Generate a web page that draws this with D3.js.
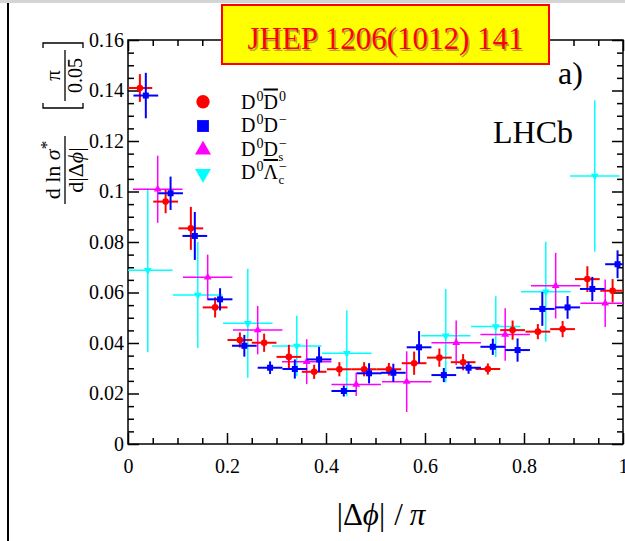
<!DOCTYPE html>
<html>
<head>
<meta charset="utf-8">
<script src="https://cdn.jsdelivr.net/npm/d3@7"></script>
<style>
  body { margin: 0; background: #fff; }
  svg { display: block; font-family: "Liberation Serif", "Times New Roman", serif; }
</style>
</head>
<body>
<svg id="chart" width="625" height="541"></svg>
<script>
// Axis ticks and labels
const xTickVals = [0, 0.2, 0.4, 0.6, 0.8, 1];
const xTickLabels = ["0", "0.2", "0.4", "0.6", "0.8", "1"];
const yTickVals = [0, 0.02, 0.04, 0.06, 0.08, 0.1, 0.12, 0.14, 0.16];
const yTickLabels = ["0", "0.02", "0.04", "0.06", "0.08", "0.1", "0.12", "0.14", "0.16"];

// D0 D0bar (red)
const redX  = [0.024, 0.076, 0.127, 0.176, 0.226, 0.275, 0.325, 0.376, 0.427, 0.477, 0.527, 0.578, 0.629, 0.677, 0.727, 0.777, 0.828, 0.878, 0.928, 0.979];
const redY  = [0.141, 0.096, 0.0854, 0.0541, 0.0412, 0.0401, 0.0345, 0.0286, 0.0296, 0.0296, 0.0296, 0.032, 0.0342, 0.0324, 0.0297, 0.0451, 0.0445, 0.0455, 0.0653, 0.0607];
const redEY = [0.0055, 0.0046, 0.0085, 0.004, 0.003, 0.0036, 0.0048, 0.0028, 0.0028, 0.0028, 0.0025, 0.0046, 0.0036, 0.0032, 0.0022, 0.0038, 0.003, 0.0032, 0.0051, 0.0046];

// D0 D- (blue)
const blueX  = [0.036, 0.086, 0.135, 0.186, 0.235, 0.287, 0.337, 0.386, 0.436, 0.487, 0.536, 0.588, 0.638, 0.688, 0.737, 0.787, 0.837, 0.888, 0.938, 0.989];
const blueY  = [0.138, 0.0993, 0.0824, 0.0573, 0.0389, 0.0302, 0.0297, 0.0335, 0.021, 0.028, 0.0282, 0.0383, 0.0273, 0.0302, 0.0385, 0.0372, 0.0535, 0.0541, 0.0614, 0.0712];
const blueEY = [0.009, 0.0066, 0.0095, 0.0044, 0.0043, 0.0025, 0.0038, 0.005, 0.0022, 0.004, 0.0036, 0.0064, 0.0028, 0.0024, 0.0032, 0.0046, 0.0067, 0.0045, 0.0048, 0.0055];

// D0 Ds- (magenta)
const magX  = [0.06, 0.161, 0.262, 0.361, 0.461, 0.563, 0.663, 0.762, 0.864, 0.964];
const magY  = [0.1009, 0.066, 0.0451, 0.0326, 0.0236, 0.0247, 0.0401, 0.0434, 0.0627, 0.0557];
const magEY = [0.0133, 0.009, 0.0096, 0.0089, 0.0046, 0.012, 0.0088, 0.0104, 0.013, 0.0094];

// D0 Lambda_c- (cyan)
const cyanX  = [0.04, 0.141, 0.242, 0.341, 0.442, 0.642, 0.743, 0.844, 0.943];
const cyanY  = [0.0688, 0.059, 0.0478, 0.0388, 0.0359, 0.0429, 0.0465, 0.0603, 0.1061];
const cyanEY = [0.0325, 0.021, 0.0216, 0.012, 0.017, 0.0185, 0.012, 0.0198, 0.03];

// half bin widths
const narrowBin = 0.025;
const wideBin = 0.05;

const svg = d3.select("#chart");
const plot = { left: 128, right: 623, top: 40, bottom: 444 };

const x = d3.scaleLinear().domain([0, 1]).range([plot.left, plot.right]);
const y = d3.scaleLinear().domain([0, 0.16]).range([plot.bottom, plot.top]);

// page edges (screenshot border)
svg.append("rect").attr("x", 0).attr("y", 0).attr("width", 625).attr("height", 3).attr("fill", "#d4d4d4");
svg.append("line").attr("x1", 8).attr("x2", 8).attr("y1", 3).attr("y2", 541)
  .attr("stroke", "#000").attr("stroke-width", 2);

// --- axes ---
const xMinor = d3.range(0, 21).map(i => i * 0.05).filter(v => Math.abs(v * 5 - Math.round(v * 5)) > 1e-6);
const yMinor = d3.range(0, 33).map(i => i * 0.005).filter(v => Math.abs(v * 50 - Math.round(v * 50)) > 1e-6);

function addAxis(axis, tx, ty) {
  const g = svg.append("g").attr("transform", `translate(${tx},${ty})`).call(axis);
  g.select(".domain").remove();
  g.attr("font-family", null).attr("font-size", 20);
  g.selectAll("line").attr("stroke-width", 1.5);
  g.selectAll("text").attr("fill", "#000");
  return g;
}

// bottom
addAxis(d3.axisBottom(x).tickValues(xTickVals).tickSize(-11).tickPadding(15)
  .tickFormat((d, i) => xTickLabels[i]), 0, plot.bottom);
addAxis(d3.axisBottom(x).tickValues(xMinor).tickSize(-6).tickFormat(""), 0, plot.bottom);
// top
addAxis(d3.axisTop(x).tickValues(xTickVals).tickSize(-11).tickFormat(""), 0, plot.top);
addAxis(d3.axisTop(x).tickValues(xMinor).tickSize(-6).tickFormat(""), 0, plot.top);
// left
addAxis(d3.axisLeft(y).tickValues(yTickVals).tickSize(-11).tickPadding(4)
  .tickFormat((d, i) => yTickLabels[i]), plot.left, 0);
addAxis(d3.axisLeft(y).tickValues(yMinor).tickSize(-6).tickFormat(""), plot.left, 0);
// right
addAxis(d3.axisRight(y).tickValues(yTickVals).tickSize(-11).tickFormat(""), plot.right, 0);
addAxis(d3.axisRight(y).tickValues(yMinor).tickSize(-6).tickFormat(""), plot.right, 0);

// frame
svg.append("rect")
  .attr("x", plot.left).attr("y", plot.top)
  .attr("width", plot.right - plot.left).attr("height", plot.bottom - plot.top)
  .attr("fill", "none").attr("stroke", "#000").attr("stroke-width", 1.5);

// --- data ---
svg.append("clipPath").attr("id", "plot-clip").append("rect")
  .attr("x", plot.left).attr("y", plot.top)
  .attr("width", plot.right - plot.left).attr("height", plot.bottom - plot.top);

const dataLayer = svg.append("g").attr("clip-path", "url(#plot-clip)");

function drawSeries(xs, ys, eys, ex, color, symbolType, size, lw, rotate) {
  const pts = xs.map((v, i) => ({ x: v, y: ys[i], ey: eys[i] }));
  const g = dataLayer.append("g");
  g.selectAll(".hbar").data(pts).enter().append("line")
    .attr("x1", d => x(d.x - ex)).attr("x2", d => x(d.x + ex))
    .attr("y1", d => y(d.y)).attr("y2", d => y(d.y))
    .attr("stroke", color).attr("stroke-width", lw);
  g.selectAll(".vbar").data(pts).enter().append("line")
    .attr("x1", d => x(d.x)).attr("x2", d => x(d.x))
    .attr("y1", d => y(d.y - d.ey)).attr("y2", d => y(d.y + d.ey))
    .attr("stroke", color).attr("stroke-width", lw);
  g.selectAll(".mark").data(pts).enter().append("path")
    .attr("d", d3.symbol().type(symbolType).size(size))
    .attr("transform", d => `translate(${x(d.x)},${y(d.y)})${rotate ? " rotate(180)" : ""}`)
    .attr("fill", color);
}

drawSeries(cyanX, cyanY, cyanEY, wideBin, "#00ffff", d3.symbolTriangle, 26, 1.5, true);
drawSeries(magX, magY, magEY, wideBin, "#ff00ff", d3.symbolTriangle, 26, 1.5, false);
drawSeries(redX, redY, redEY, narrowBin, "#ff0000", d3.symbolCircle, 34, 2, false);
drawSeries(blueX, blueY, blueEY, narrowBin, "#0000ff", d3.symbolSquare, 36, 2, false);

// --- legend ---
const legend = svg.append("g");
const legendRows = [
  { color: "#ff0000", type: d3.symbolCircle, rot: false, cy: 101.7 },
  { color: "#0000ff", type: d3.symbolSquare, rot: false, cy: 126 },
  { color: "#ff00ff", type: d3.symbolTriangle, rot: false, cy: 150 },
  { color: "#00ffff", type: d3.symbolTriangle, rot: true, cy: 173.5 }
];
legendRows.forEach(r => {
  legend.append("path")
    .attr("d", d3.symbol().type(r.type).size(r.type === d3.symbolTriangle ? 110 : 140))
    .attr("transform", `translate(203,${r.cy})${r.rot ? " rotate(180)" : ""}`)
    .attr("fill", r.color);
});

function legendText(cy, parts) {
  const t = legend.append("text").attr("x", 241).attr("y", cy + 6.8)
    .attr("font-size", 20).attr("fill", "#000");
  parts.forEach(p => {
    const s = t.append("tspan").text(p.t);
    if (p.sup) s.attr("font-size", 14).attr("dy", -8).attr("dx", 1);
    if (p.down) s.attr("dy", p.down);
    if (p.sub) s.attr("font-size", 13).attr("dx", -8.5).attr("dy", 13);
    if (p.bar) s.style("text-decoration", "overline");
  });
}
legendText(101.7, [{ t: "D" }, { t: "0", sup: true }, { t: "D", down: 8, bar: true }, { t: "0", sup: true }]);
legendText(125.3, [{ t: "D" }, { t: "0", sup: true }, { t: "D", down: 8 }, { t: "\u2212", sup: true }]);
legendText(148.7, [{ t: "D" }, { t: "0", sup: true }, { t: "D", down: 8 }, { t: "\u2212", sup: true }, { t: "s", sub: true }]);
legendText(172.2, [{ t: "D" }, { t: "0", sup: true }, { t: "\u039B", down: 8, bar: true }, { t: "\u2212", sup: true }, { t: "c", sub: true }]);

// --- annotations ---
svg.append("text").attr("x", 558).attr("y", 84).attr("font-size", 32).text("a)");
svg.append("text").attr("x", 493).attr("y", 143).attr("font-size", 32).text("LHCb");

// x-axis title
const xt = svg.append("text").attr("x", 381).attr("y", 525).attr("text-anchor", "middle").attr("font-size", 31);
xt.append("tspan").text("|\u0394");
xt.append("tspan").attr("font-style", "italic").text("\u03D5");
xt.append("tspan").text("|");
xt.append("tspan").attr("dx", 9).text("/");
xt.append("tspan").attr("dx", 7).attr("font-style", "italic").text("\u03C0");

// y-axis title (rotated fraction)
const yl = svg.append("g").attr("transform", "translate(65,204) rotate(-90)").attr("font-size", 22);
yl.append("line").attr("x1", 0).attr("x2", 68).attr("y1", 0).attr("y2", 0)
  .attr("stroke", "#000").attr("stroke-width", 1.3);
const num = yl.append("text").attr("x", 34).attr("y", -5).attr("text-anchor", "middle");
num.append("tspan").text("d ln ");
num.append("tspan").attr("font-style", "italic").text("\u03C3");
num.append("tspan").attr("font-size", 17).attr("dy", -8).text("*");
const den = yl.append("text").attr("x", 34).attr("y", 18).attr("text-anchor", "middle");
den.append("tspan").text("d|\u0394");
den.append("tspan").attr("font-style", "italic").text("\u03D5");
den.append("tspan").text("|");
// bracket [pi / 0.05]
const br = yl.append("g").attr("stroke", "#000").attr("stroke-width", 1.3).attr("fill", "none");
br.append("path").attr("d", "M101,-22 L96,-22 L96,18 L101,18");
br.append("path").attr("d", "M156,-22 L161,-22 L161,18 L156,18");
br.append("line").attr("x1", 103).attr("x2", 154).attr("y1", 0).attr("y2", 0);
yl.append("text").attr("x", 128.5).attr("y", -5).attr("text-anchor", "middle").attr("font-size", 21).text("\u03C0");
yl.append("text").attr("x", 128.5).attr("y", 17).attr("text-anchor", "middle").attr("font-size", 20).text("0.05");

// --- journal stamp ---
svg.append("rect").attr("x", 222).attr("y", 5).attr("width", 327).attr("height", 59)
  .attr("fill", "#ffff00").attr("stroke", "#ff0000").attr("stroke-width", 2);
svg.append("text").attr("x", 387).attr("y", 50.5).attr("text-anchor", "middle")
  .attr("font-size", 31).attr("fill", "#8a6a4a").attr("opacity", 0.6).text("JHEP 1206(1012) 141");
svg.append("text").attr("x", 385.5).attr("y", 49).attr("text-anchor", "middle")
  .attr("font-size", 31).attr("fill", "#ff0000").text("JHEP 1206(1012) 141");
</script>
</body>
</html>
